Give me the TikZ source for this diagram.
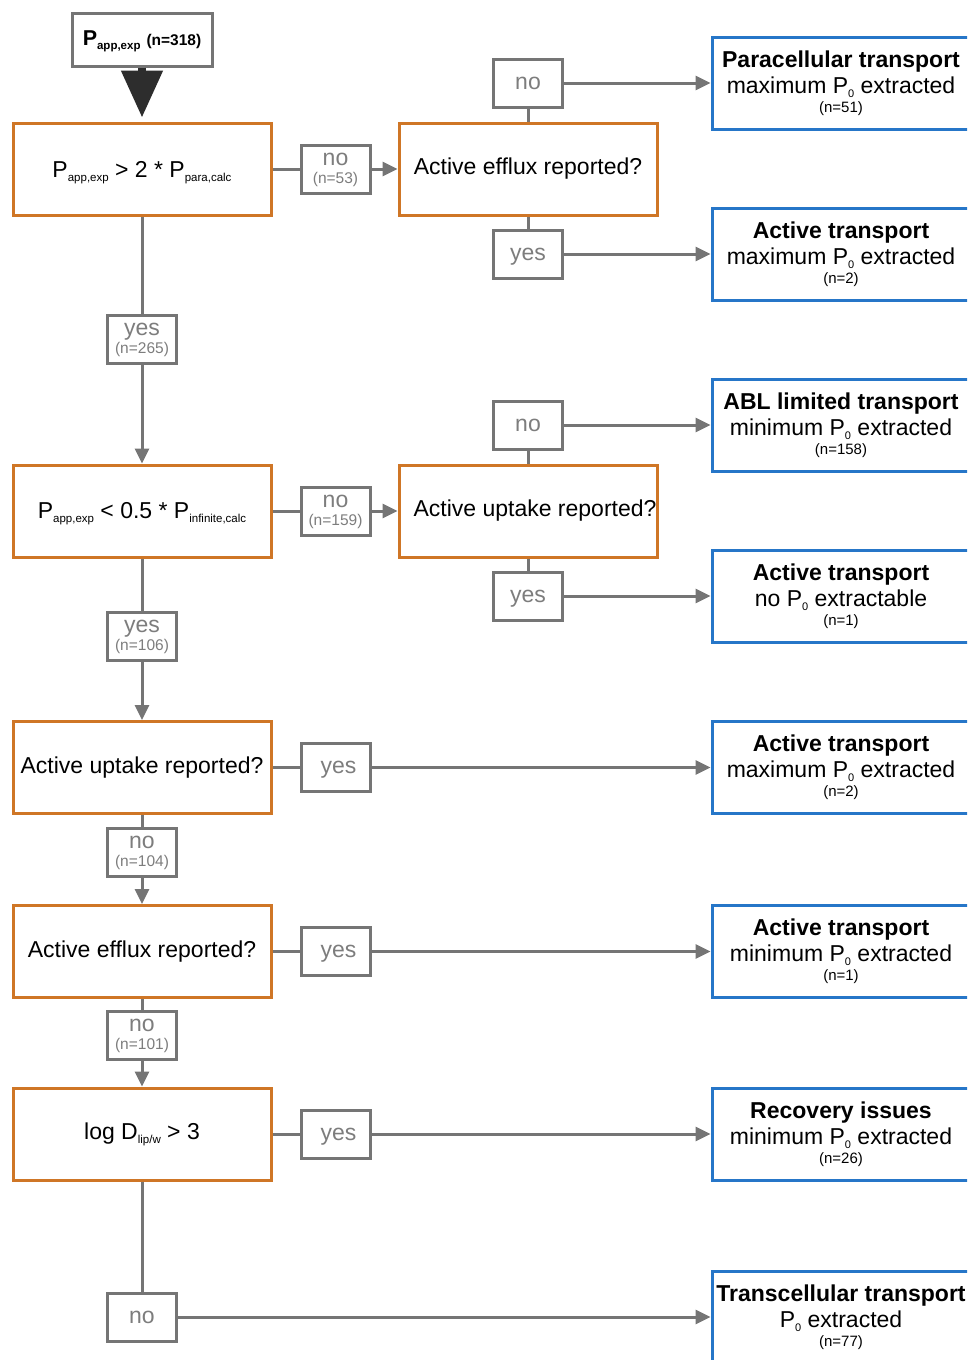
\documentclass[tikz,border=0pt]{standalone}
\usepackage{fontspec}
\setmainfont{Liberation Sans}
\usetikzlibrary{arrows.meta,calc}
\definecolor{orng}{RGB}{207,118,38}
\definecolor{blu}{RGB}{38,118,200}
\definecolor{gry}{RGB}{117,117,117}
\definecolor{gtxt}{RGB}{125,125,125}
\definecolor{darkarr}{RGB}{45,45,45}
\newcommand\fs[1]{\fontsize{#1}{#1}\selectfont}
\newcommand\sbs[1]{\raisebox{-4pt}[0pt][0pt]{\fs{11.5}#1}}
\newcommand\zsub{\raisebox{-4pt}[0pt][0pt]{\fs{11}0}}
\tikzset{
 obox/.style={draw=orng, line width=3pt, minimum width=258pt, minimum height=92pt, inner sep=0pt, font={\fs{23}}, text=black},
 bbox/.style={draw=blu, line width=3pt, minimum width=258pt, minimum height=92pt, inner sep=0pt},
 gbox/.style={draw=gry, line width=3pt, minimum width=69pt, minimum height=48pt, inner sep=0pt, text depth=0pt, text=gtxt, font={\fs{23}}},
 ttl/.style={anchor=base, inner sep=0pt, font={\bfseries\fs{23}}, text=black},
 lineb/.style={anchor=base, inner sep=0pt, font={\fs{23}}, text=black},
 nnum/.style={anchor=base, inner sep=0pt, font={\fs{15}}, text=black},
 gword/.style={anchor=base, inner sep=0pt, font={\fs{23}}, text=gtxt},
 gnum/.style={anchor=base, inner sep=0pt, font={\fs{15.5}}, text=gtxt},
 conn/.style={draw=gry, line width=3pt},
 arr/.style={conn, -{Triangle[length=15pt,width=14pt]}},
}
\newcommand\outbox[6]{%
 \node[bbox] (#1) at (#2) {};
 \node[ttl] (#1t) at ($(#1.center)+(0,-16)$) {#3};
 \node[lineb] (#1l) at ($(#1.center)+(0,10)$) {#4};
 \node[nnum] (#1n) at ($(#1.center)+(0,#6)$) {#5};
}
\newcommand\nbox[4]{%
 \node[gbox] (#1) at (#2) {};
 \node[gword] (#1w) at ($(#1.center)+(0,-4)$) {#3};
 \node[gnum] (#1n) at ($(#1.center)+(0,14)$) {#4};
}
\begin{document}
\begin{tikzpicture}[x=1pt,y=-1pt]
\useasboundingbox (0,0) rectangle (967,1360);
\clip (0,0) rectangle (967,1360);
\fill[white] (0,0) rectangle (967,1360);

% start box
\node[draw=gry, line width=3pt, minimum width=140pt, minimum height=53pt, inner sep=0pt] (top) at (142,39.5)
 {\bfseries\fs{21.5}P\raisebox{-4pt}[0pt][0pt]{\fs{11.5}app,exp}\hspace{6pt}\fs{15.5}(n=318)};

% decision boxes (left column)
\node[obox] (a1) at (142,169) {P\sbs{app,exp} > 2 * P\sbs{para,calc}};
\node[obox] (a2) at (142,511) {P\sbs{app,exp} < 0.5 * P\sbs{infinite,calc}};
\node[obox] (a3) at (142,767.5) {Active uptake reported?};
\node[obox] (a4) at (142,951.5) {Active efflux reported?};
\node[obox] (a5) at (142,1134) {log D\sbs{lip/w} > 3};

% decision boxes (middle column)
\node[obox] (b1) at (528,169) {Active efflux reported?};
\node[obox] (b2) at (528,511) {\hspace{14pt}Active uptake reported?};

% outcome boxes
\outbox{c1}{841,83}{Paracellular transport}{maximum P\zsub{} extracted}{(n=51)}{29}
\outbox{c2}{841,254}{Active transport}{maximum P\zsub{} extracted}{(n=2)}{29}
\outbox{c3}{841,425}{ABL limited transport}{minimum P\zsub{} extracted}{(n=158)}{29}
\outbox{c4}{841,596}{Active transport}{no P\zsub{} extractable}{(n=1)}{29}
\outbox{c5}{841,767.5}{Active transport}{maximum P\zsub{} extracted}{(n=2)}{29}
\outbox{c6}{841,951.5}{Active transport}{minimum P\zsub{} extracted}{(n=1)}{29}
\outbox{c7}{841,1134}{Recovery issues}{minimum P\zsub{} extracted}{(n=26)}{29}
\outbox{c8}{841,1317}{Transcellular transport}{P\zsub{} extracted}{(n=77)}{29}

% labels
\nbox{no53}{335.5,169}{no}{(n=53)}
\nbox{no159}{335.5,511}{no}{(n=159)}
\nbox{yes265}{142,339}{yes}{(n=265)}
\nbox{yes106}{142,636}{yes}{(n=106)}
\nbox{no104}{142,852}{no}{(n=104)}
\nbox{no101}{142,1035.5}{no}{(n=101)}
\node[gbox] (b1no) at (528,83) {no};
\node[gbox] (b1yes) at (528,254) {yes};
\node[gbox] (b2no) at (528,425) {no};
\node[gbox] (b2yes) at (528,596) {yes};
\node[gbox] (a3yes) at (335.5,767.5) {\hspace{6pt}yes};
\node[gbox] (a4yes) at (335.5,951.5) {\hspace{6pt}yes};
\node[gbox] (a5yes) at (335.5,1134) {\hspace{6pt}yes};
\node[gbox] (a5no) at (142,1317) {no};

% big start arrow
\draw[line width=8pt, draw=darkarr, -{Triangle[length=47pt,width=40pt]}, shorten >=4pt] (top.south) -- (a1.north);

% connectors
\draw[conn] (a1.east) -- (no53.west);
\draw[arr] (no53.east) -- (b1.west);
\draw[conn] (b1.north) -- (b1no.south);
\draw[arr] (b1no.east) -- (c1.west);
\draw[conn] (b1.south) -- (b1yes.north);
\draw[arr] (b1yes.east) -- (c2.west);
\draw[conn] (a1.south) -- (yes265.north);
\draw[arr] (yes265.south) -- (a2.north);
\draw[conn] (a2.east) -- (no159.west);
\draw[arr] (no159.east) -- (b2.west);
\draw[conn] (b2.north) -- (b2no.south);
\draw[arr] (b2no.east) -- (c3.west);
\draw[conn] (b2.south) -- (b2yes.north);
\draw[arr] (b2yes.east) -- (c4.west);
\draw[conn] (a2.south) -- (yes106.north);
\draw[arr] (yes106.south) -- (a3.north);
\draw[conn] (a3.east) -- (a3yes.west);
\draw[arr] (a3yes.east) -- (c5.west);
\draw[conn] (a3.south) -- (no104.north);
\draw[arr] (no104.south) -- (a4.north);
\draw[conn] (a4.east) -- (a4yes.west);
\draw[arr] (a4yes.east) -- (c6.west);
\draw[conn] (a4.south) -- (no101.north);
\draw[arr] (no101.south) -- (a5.north);
\draw[conn] (a5.east) -- (a5yes.west);
\draw[arr] (a5yes.east) -- (c7.west);
\draw[conn] (a5.south) -- (a5no.north);
\draw[arr] (a5no.east) -- (c8.west);
\end{tikzpicture}
\end{document}
